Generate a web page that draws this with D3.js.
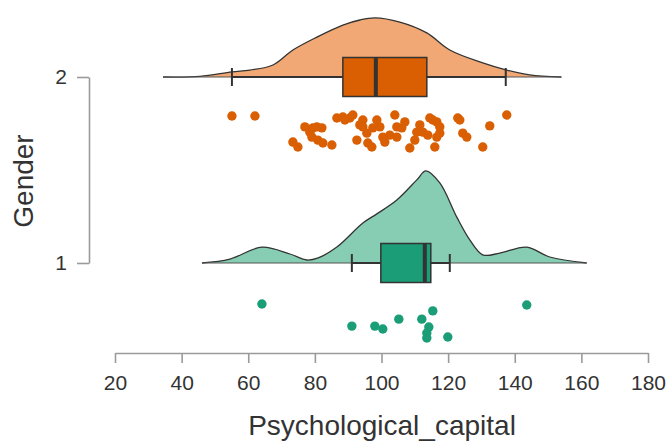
<!DOCTYPE html>
<html>
<head>
<meta charset="utf-8">
<script src="https://cdn.jsdelivr.net/npm/d3@7"></script>
<style>
  html, body { margin: 0; padding: 0; background: #fff; }
  svg { display: block; font-family: "Liberation Sans", Arial, sans-serif; }
</style>
</head>
<body>
<svg id="chart" width="671" height="441"></svg>
<script>
// ---------- data ----------
const groups = ["1", "2"];
const xTicks = [20, 40, 60, 80, 100, 120, 140, 160, 180];
const xTitle = "Psychological_capital";
const yTitle = "Gender";

// group 2 (orange) raw points and vertical jitter (0..1)
const g2Values = [55.1, 62, 73.4, 74.9, 77, 78.5, 79.4, 80.6, 80.9, 79.1, 82.4, 82.1, 85.1, 86.6, 88.4, 89, 90.5, 91.4, 92.6, 93.5, 94.4, 94.4, 95.6, 95.9, 97.1, 97.4, 98.6, 99.5, 100.4, 101, 102.5, 104, 104.6, 104.6, 106.1, 107, 108.5, 110, 110.6, 111.5, 112.4, 113.9, 114.5, 115.4, 116, 116.6, 116.6, 117.5, 117.5, 122.9, 123.5, 124.4, 125.6, 130.4, 132.5, 137.6];
const g2Jitter = [0.03, 0.03, 0.82, 0.97, 0.36, 0.52, 0.39, 0.36, 0.76, 0.67, 0.85, 0.39, 0.91, 0.09, 0.06, 0.15, 0.09, 0, 0.76, 0.3, 0.15, 0.36, 0.55, 0.85, 0.97, 0.39, 0.15, 0.36, 0.67, 0.82, 0.61, 0, 0.36, 0.67, 0.39, 0.21, 1, 0.76, 0.52, 0.3, 0.52, 0.61, 0.09, 0.15, 0.97, 0.21, 0.67, 0.36, 0.55, 0.09, 0.15, 0.55, 0.67, 0.97, 0.33, 0];
// group 1 (green)
const g1Values = [64.1, 91.1, 98, 100.4, 105.2, 112.1, 115.4, 114.2, 113.6, 113.6, 119.9, 143.6];
const g1Jitter = [0.09, 0.76, 0.76, 0.85, 0.55, 0.55, 0.3, 0.79, 0.97, 1.12, 1.09, 0.12];

// box statistics [whiskerLow, q1, median, q3, whiskerHigh]
const g2Box = [55.1, 88.4, 98.3, 113.6, 137.3];
const g1Box = [91.1, 99.8, 113.0, 114.8, 120.5];

// density curves
const g2DensX = [34.4, 45.5, 55.1, 60.5, 67.4, 73.4, 80.6, 88.4, 93.5, 98, 105.5, 113.6, 120.5, 130.4, 137.6, 144.5, 154.0];
const g2DensY = [0, 0.0002, 0.0017, 0.0023, 0.004, 0.009, 0.0133, 0.0173, 0.019, 0.0197, 0.0183, 0.0147, 0.009, 0.0047, 0.0023, 0.0007, 0];
const g1DensX = [46.1, 54.5, 64.1, 72.5, 77.6, 81, 86.6, 94.4, 98.5, 104.6, 110.6, 113.3, 117.5, 122.6, 126.5, 130.4, 135.5, 143.6, 150.5, 161.6];
const g1DensY = [0, 0.0013, 0.0053, 0.003, 0.001, 0.0017, 0.0053, 0.0133, 0.0163, 0.021, 0.0277, 0.0307, 0.0267, 0.0153, 0.0077, 0.0027, 0.0033, 0.0053, 0.002, 0];

// ---------- layout ----------
const svg = d3.select("#chart");
const x = d3.scaleLinear().domain([20, 180]).range([115, 648]);
const y = d3.scalePoint().domain(groups).range([263, 77]);
const dens = d3.scaleLinear().domain([0, 0.01]).range([0, 30]);

const series = [
  { g: "2", vals: g2Values, jit: g2Jitter, box: g2Box, dx: g2DensX, dy: g2DensY,
    fill: "#F1A874", main: "#D95F02" },
  { g: "1", vals: g1Values, jit: g1Jitter, box: g1Box, dx: g1DensX, dy: g1DensY,
    fill: "#86CDB3", main: "#1B9E77" }
];

const dark = "#333333";

series.forEach(s => {
  const base = y(s.g);
  const pts = s.dx.map((v, i) => [v, s.dy[i]]);
  const area = d3.area().x(d => x(d[0])).y0(base).y1(d => base - dens(d[1])).curve(d3.curveCatmullRom);
  const line = d3.line().x(d => x(d[0])).y(d => base - dens(d[1])).curve(d3.curveCatmullRom);
  svg.append("path").attr("d", area(pts)).attr("fill", s.fill);
  svg.append("path").attr("d", line(pts)).attr("fill", "none").attr("stroke", dark).attr("stroke-width", 1.3);
  // baseline
  svg.append("line").attr("x1", x(s.dx[0])).attr("x2", x(s.dx[s.dx.length - 1]))
    .attr("y1", base).attr("y2", base).attr("stroke", "#555").attr("stroke-width", 1.2);

  // whiskers
  const [wl, q1, med, q3, wh] = s.box;
  svg.append("line").attr("x1", x(wl)).attr("x2", x(wh)).attr("y1", base).attr("y2", base)
    .attr("stroke", dark).attr("stroke-width", 1.8);
  [wl, wh].forEach(v => {
    svg.append("line").attr("x1", x(v)).attr("x2", x(v)).attr("y1", base - 9).attr("y2", base + 9)
      .attr("stroke", dark).attr("stroke-width", 2);
  });
  // box
  const bh = 39;
  svg.append("rect").attr("x", x(q1)).attr("y", base - bh / 2).attr("width", x(q3) - x(q1)).attr("height", bh)
    .attr("fill", s.main).attr("stroke", dark).attr("stroke-width", 1.5);
  svg.append("line").attr("x1", x(med)).attr("x2", x(med)).attr("y1", base - bh / 2).attr("y2", base + bh / 2)
    .attr("stroke", dark).attr("stroke-width", 4);

  // points
  svg.append("g").selectAll("circle").data(s.vals).join("circle")
    .attr("cx", d => x(d))
    .attr("cy", (d, i) => base + 38 + s.jit[i] * 33)
    .attr("r", 4.7)
    .attr("fill", s.main);
});

// ---------- axes ----------
const axisColor = "#9a9a9a";
const xAxis = d3.axisBottom(x).tickValues(xTicks).tickSize(10).tickSizeOuter(0).tickFormat(d3.format("d"));
const gx = svg.append("g").attr("transform", "translate(0,353)").call(xAxis);
gx.select(".domain").attr("stroke", axisColor).attr("stroke-width", 1.6);
gx.selectAll(".tick line").attr("stroke", axisColor).attr("stroke-width", 1.6);
gx.selectAll(".tick text").attr("fill", "#333").attr("font-size", 21).attr("y", 22)
  .attr("font-family", "Liberation Sans, Arial, sans-serif");

const yAxis = d3.axisLeft(y).tickSize(12).tickSizeOuter(0);
const gy = svg.append("g").attr("transform", "translate(89,0)").call(yAxis);
gy.select(".domain").attr("stroke", axisColor).attr("stroke-width", 1.6);
gy.selectAll(".tick line").attr("stroke", axisColor).attr("stroke-width", 1.6);
gy.selectAll(".tick text").attr("fill", "#333").attr("font-size", 21).attr("x", -22)
  .attr("font-family", "Liberation Sans, Arial, sans-serif");

svg.append("text").attr("x", 382).attr("y", 435).attr("text-anchor", "middle")
  .attr("font-size", 28).attr("fill", "#333").text(xTitle);
svg.append("text").attr("transform", "translate(33,181) rotate(-90)").attr("text-anchor", "middle")
  .attr("font-size", 28).attr("fill", "#333").text(yTitle);
</script>
</body>
</html>
